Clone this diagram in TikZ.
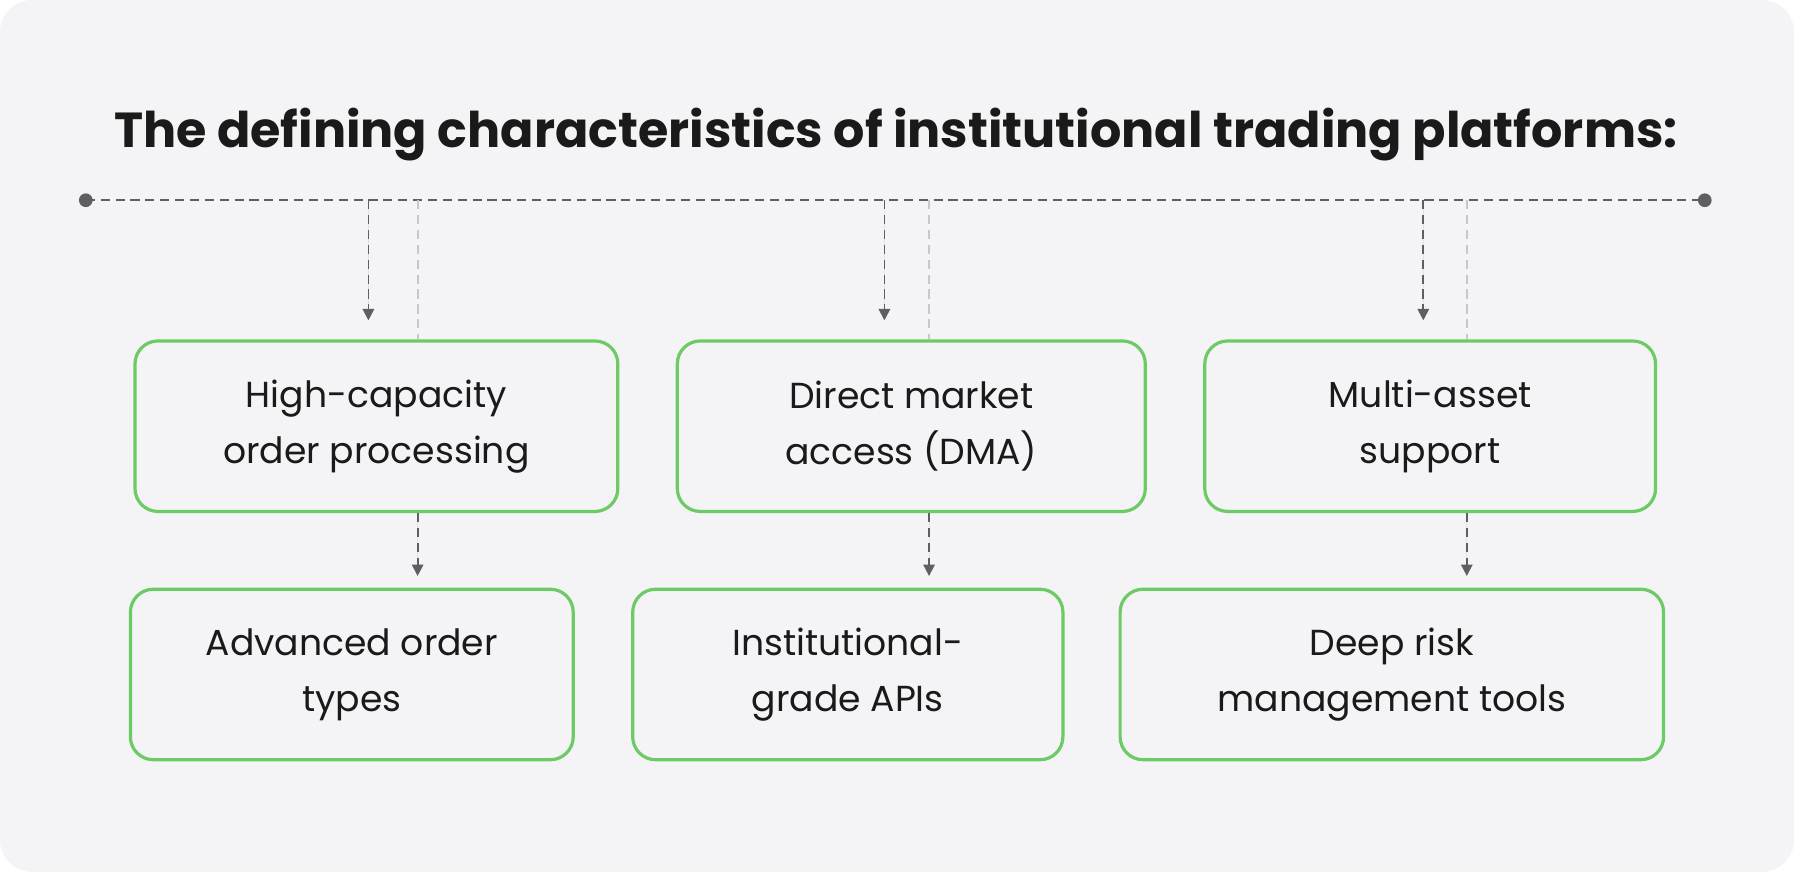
\documentclass[tikz,border=0pt]{standalone}
\usepackage{fontspec}
\setmainfont{Poppins}
\usetikzlibrary{arrows.meta}
\definecolor{bg}{HTML}{F4F4F6}
\definecolor{grn}{HTML}{6CCB64}
\definecolor{txt}{HTML}{1A1A1A}
\definecolor{dk}{HTML}{5F5F63}
\definecolor{lt}{HTML}{C8C8CC}
\begin{document}
\begin{tikzpicture}[x=0.5pt,y=-0.5pt,
  box/.style={draw=grn,line width=1.4pt,rounded corners=10pt,fill=bg,text=txt,font=\fontsize{15.8}{24.5}\selectfont,align=center,inner sep=0pt},
  dar/.style={draw=dk,line width=0.8pt,dash pattern=on 4pt off 2.5pt,-{Triangle[length=5pt,width=5pt]},fill=dk},
  lln/.style={draw=lt,line width=0.8pt,dash pattern=on 4pt off 2.5pt}]
\useasboundingbox (0,0) rectangle (1568,762);
\fill[white] (0,0) rectangle (1568,762);
\fill[bg,rounded corners=14pt] (0,0) rectangle (1568,762);
\node[font=\fontsize{21.5}{26}\selectfont\bfseries,text=txt] (title) at (783,118) {The defining characteristics of institutional trading platforms:};
\coordinate (L) at (75,175); \coordinate (R) at (1490,175);
\draw[dk,line width=0.8pt,dash pattern=on 4pt off 2.5pt] (L) -- (R);
\fill[dk] (L) circle (6); \fill[dk] (R) circle (6);
\node[box,minimum width=211pt,minimum height=74.5pt] (a1) at (329,372.5) {High-capacity\\order processing};
\node[box,minimum width=204.5pt,minimum height=74.5pt] (a2) at (796.5,372.5) {Direct market\\access (DMA)};
\node[box,minimum width=197pt,minimum height=74.5pt] (a3) at (1250,372.5) {Multi-asset\\support};
\node[box,minimum width=193.5pt,minimum height=74.5pt] (b1) at (307.5,589.5) {Advanced order\\types};
\node[box,minimum width=188pt,minimum height=74.5pt] (b2) at (741,589.5) {Institutional-\\grade APIs};
\node[box,minimum width=237.5pt,minimum height=74.5pt] (b3) at (1216.5,589.5) {Deep risk\\management tools};
\foreach \xa/\xb/\n in {322/365/1,773/812/2,1244/1282/3}{
  \coordinate (s\n) at (\xa,175); \coordinate (e\n) at (\xa,280);
  \draw[dar] (s\n) -- (e\n);
  \coordinate (t\n) at (\xb,175);
  \draw[lln] (t\n) -- (t\n |- a\n.north);
  \draw[dar] (a\n.south -| t\n) -- ++(0,55);
}
\end{tikzpicture}
\end{document}
